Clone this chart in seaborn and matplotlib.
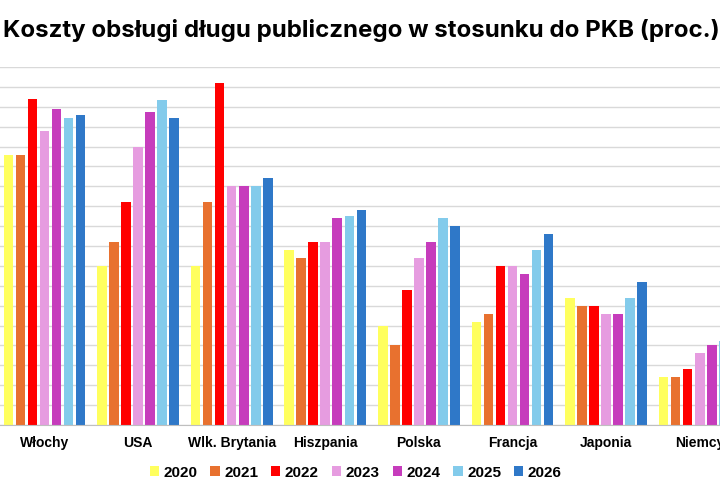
import numpy as np
import pandas as pd

import matplotlib.pyplot as plt
import seaborn as sns

# dane (proc. PKB)
kraje = ["Włochy", "USA", "Wlk. Brytania", "Hiszpania", "Polska", "Francja", "Japonia", "Niemcy"]
lata = ["2020", "2021", "2022", "2023", "2024", "2025", "2026"]

r2020 = [3.4, 2.0, 2.0, 2.2, 1.25, 1.3, 1.6, 0.6]
r2021 = [3.4, 2.3, 2.8, 2.1, 1.0, 1.4, 1.5, 0.6]
r2022 = [4.1, 2.8, 4.3, 2.3, 1.7, 2.0, 1.5, 0.7]
r2023 = [3.7, 3.5, 3.0, 2.3, 2.1, 2.0, 1.4, 0.9]
r2024 = [3.97, 3.93, 3.0, 2.6, 2.3, 1.9, 1.4, 1.0]
r2025 = [3.86, 4.09, 3.0, 2.63, 2.6, 2.2, 1.6, 1.05]
r2026 = [3.9, 3.86, 3.1, 2.7, 2.5, 2.4, 1.8, 1.1]

kolory = ["#FFFF5E", "#E8712F", "#FF0000", "#E69CE0", "#C63CBC", "#83CBEB", "#2F78C8"]

wartosci = [r2020, r2021, r2022, r2023, r2024, r2025, r2026]
df = pd.DataFrame({
    "kraj": np.tile(kraje, len(lata)),
    "rok": np.repeat(lata, len(kraje)),
    "proc": np.concatenate(wartosci)
})

fig = plt.figure(figsize=(7.2, 5), dpi=100)
ax = fig.add_axes([0, 0.15, 1, 0.716])

sns.barplot(
    data=df,
    x="kraj",
    y="proc",
    hue="rok",
    palette=kolory,
    saturation=1,
    width=0.9,
    gap=0.2,
    ax=ax
)

ax.set_xlim(-0.475, 7.217)
ax.set_ylim(0, 4.5)
ax.set_yticks(np.arange(0, 4.51, 0.25))
ax.set_yticklabels([])
ax.tick_params(axis="y", length=0)
ax.tick_params(axis="x", length=0, pad=8)
ax.set_xlabel("")
ax.set_ylabel("")
ax.grid(axis="y", color="#d9d9d9", linewidth=1)
ax.set_axisbelow(True)

for s in ["top", "left", "right"]:
    ax.spines[s].set_visible(False)
ax.spines["bottom"].set_color("#bfbfbf")

for lab in ax.get_xticklabels():
    lab.set_fontfamily(["Liberation Sans Narrow", "Liberation Sans"])
    lab.set_fontweight("bold")
    lab.set_fontsize(10)

sns.move_legend(
    ax,
    "upper center",
    bbox_to_anchor=(0.494, -0.075),
    ncol=7,
    frameon=False,
    title=None,
    handlelength=0.6,
    handleheight=0.6,
    handletextpad=0.3,
    columnspacing=0.85,
    prop={"family": ["Liberation Sans Narrow", "Liberation Sans"], "weight": "bold", "size": 11}
)

fig.text(
    0.502, 0.938,
    "Koszty obsługi długu publicznego w stosunku do PKB (proc.)",
    ha="center", va="center",
    fontsize=17.3, fontweight="bold", family="Inter"
)

plt.savefig("out.png", dpi=100)
